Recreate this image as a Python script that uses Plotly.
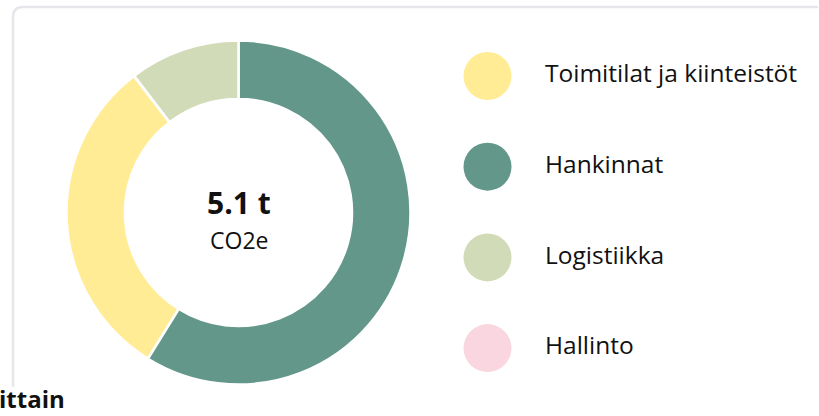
import plotly.graph_objects as go

# ---- data ----
categories = ["Toimitilat ja kiinteistöt", "Hankinnat", "Logistiikka", "Hallinto"]
values_t = [1.57, 3.00, 0.53, 0.0]
colors = ["#FFEC94", "#62978A", "#D1DBB7", "#F9D6E0"]
total_label = "5.1 t"
unit_label = "CO2e"
heading_fragment = "ittain"

W, H = 819, 416
FONT = "Open Sans"
INK = "#111111"

fig = go.Figure()

# donut (counterclockwise from the data order, Hankinnat ending at 12 o'clock)
cx, cy, r = 238.5, 212.5, 172
total = sum(values_t)
fig.add_trace(go.Pie(
    labels=categories, values=values_t, sort=False,
    direction="counterclockwise",
    rotation=360 * values_t[1] / total,
    hole=0.66,
    marker=dict(colors=colors, line=dict(color="white", width=2.5)),
    textinfo="none", hoverinfo="label+value", showlegend=False,
    domain=dict(x=[(cx - r) / W, (cx + r) / W], y=[(H - cy - r) / H, (H - cy + r) / H]),
))

# custom legend: big circles + labels
fig.add_trace(go.Scatter(
    x=[487.5] * len(categories), y=categories, mode="markers",
    marker=dict(size=48, color=colors, line=dict(width=0)),
    hoverinfo="skip", showlegend=False,
))
fig.add_trace(go.Scatter(
    x=[545] * len(categories), y=categories, mode="text",
    text=categories, textposition="middle right",
    textfont=dict(family=FONT, size=24.5, color=INK),
    hoverinfo="skip", showlegend=False,
))

row0, step = 76, 90.7
fig.update_layout(
    width=W, height=H,
    margin=dict(l=0, r=0, t=0, b=0),
    paper_bgcolor="white", plot_bgcolor="rgba(0,0,0,0)",
    xaxis=dict(range=[0, W], visible=False, fixedrange=True),
    yaxis=dict(type="category", categoryarray=categories,
               range=[(H - row0) / step, -row0 / step], visible=False, fixedrange=True),
    annotations=[
        dict(text=f"<b>{total_label}</b>", x=cx / W, y=(H - 202.5) / H, xref="paper", yref="paper",
             showarrow=False, font=dict(family=FONT, size=30, color=INK),
             xanchor="center", yanchor="middle"),
        dict(text=unit_label, x=cx / W, y=(H - 240) / H, xref="paper", yref="paper",
             showarrow=False, font=dict(family=FONT, size=23, color=INK),
             xanchor="center", yanchor="middle"),
        dict(text=f"<b>{heading_fragment}</b>", x=-3 / W, y=(H - 398) / H, xref="paper", yref="paper",
             showarrow=False, font=dict(family=FONT, size=24, color=INK),
             xanchor="left", yanchor="middle"),
    ],
    shapes=[
        dict(type="path", xref="paper", yref="paper",
             path=f"M {13/W} {(H-387)/H} L {13/W} {(H-17)/H} Q {13/W} {(H-7)/H} {23/W} {(H-7)/H} L {818/W} {(H-7)/H}",
             line=dict(color="#E5E7EB", width=2.5), layer="below"),
    ],
)

fig.write_html("out.html", config={"displayModeBar": False},
               post_script="document.body.style.margin='0px';")
